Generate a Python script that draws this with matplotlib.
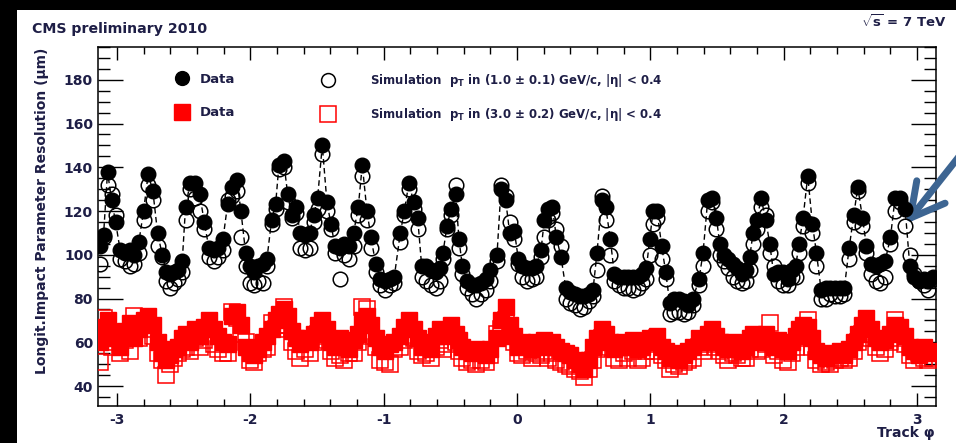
import numpy as np
import matplotlib.pyplot as plt
from matplotlib.patches import Rectangle
from matplotlib.ticker import MultipleLocator

plt.rcParams['font.family'] = ['DejaVu Sans']
plt.rcParams['font.weight'] = 'bold'
plt.rcParams['axes.unicode_minus'] = False
plt.rcParams['mathtext.fontset'] = 'custom'
plt.rcParams['mathtext.rm'] = 'DejaVu Sans:bold'
plt.rcParams['mathtext.it'] = 'DejaVu Sans:bold'
plt.rcParams['mathtext.bf'] = 'DejaVu Sans:bold'

# track phi of each point
phi = [
    -3.13, -3.10, -3.07, -3.04, -3.01, -2.975, -2.94, -2.905, -2.87, -2.835,
    -2.80, -2.765, -2.73, -2.695, -2.66, -2.63, -2.60, -2.57, -2.54, -2.51,
    -2.485, -2.45, -2.415, -2.38, -2.345, -2.31, -2.275, -2.24, -2.205, -2.17,
    -2.135, -2.10, -2.07, -2.035, -2.00, -1.97, -1.94, -1.905, -1.875, -1.84,
    -1.81, -1.785, -1.75, -1.72, -1.69, -1.66, -1.625, -1.59, -1.555, -1.525,
    -1.495, -1.46, -1.425, -1.395, -1.365, -1.33, -1.295, -1.26, -1.225, -1.19,
    -1.16, -1.125, -1.095, -1.06, -1.025, -0.99, -0.955, -0.92, -0.875, -0.845,
    -0.81, -0.775, -0.745, -0.715, -0.68, -0.645, -0.61, -0.58, -0.555, -0.525,
    -0.495, -0.46, -0.435, -0.41, -0.375, -0.34, -0.305, -0.27, -0.235, -0.20,
    -0.15, -0.12, -0.085, -0.055, -0.02, 0.01, 0.04, 0.075, 0.11, 0.145,
    0.18, 0.205, 0.235, 0.265, 0.295, 0.33, 0.365, 0.40, 0.435, 0.47,
    0.505, 0.54, 0.57, 0.60, 0.635, 0.665, 0.70, 0.73, 0.765, 0.80,
    0.835, 0.87, 0.905, 0.94, 0.97, 0.995, 1.02, 1.05, 1.085, 1.115,
    1.145, 1.18, 1.215, 1.25, 1.285, 1.32, 1.365, 1.395, 1.43, 1.46,
    1.495, 1.52, 1.55, 1.585, 1.62, 1.65, 1.685, 1.715, 1.745, 1.77,
    1.80, 1.83, 1.865, 1.895, 1.925, 1.96, 1.995, 2.03, 2.06, 2.09,
    2.115, 2.145, 2.18, 2.215, 2.245, 2.28, 2.315, 2.35, 2.385, 2.42,
    2.455, 2.49, 2.525, 2.555, 2.59, 2.62, 2.655, 2.69, 2.725, 2.76,
    2.80, 2.835, 2.87, 2.91, 2.945, 2.98, 3.015, 3.05, 3.085, 3.12,
]

# pT 1.0 GeV/c : data / simulation
data_1gev = [
    104, 109, 138, 125, 115, 102, 101, 102, 100, 106,
    120, 137, 129, 110, 100, 92, 91, 92, 93, 97,
    122, 133, 133, 128, 115, 103, 102, 103, 107, 123,
    131, 134, 120, 101, 95, 92, 95, 96, 98, 116,
    123, 141, 143, 128, 118, 122, 110, 109, 110, 118,
    126, 150, 124, 114, 104, 103, 105, 104, 110, 122,
    141, 120, 108, 96, 89, 88, 89, 90, 110, 120,
    133, 124, 117, 95, 95, 93, 92, 94, 101, 113,
    121, 128, 107, 95, 88, 86, 86, 87, 89, 93,
    100, 130, 125, 110, 111, 98, 95, 94, 94, 95,
    102, 116, 121, 122, 108, 99, 85, 83, 82, 81,
    81, 82, 84, 101, 125, 122, 107, 91, 90, 90,
    90, 90, 90, 91, 94, 107, 120, 120, 104, 92,
    78, 80, 80, 79, 77, 80, 89, 101, 125, 126,
    117, 105, 100, 98, 96, 94, 91, 93, 99, 110,
    116, 126, 116, 105, 91, 92, 92, 89, 93, 95,
    105, 117, 136, 114, 101, 84, 85, 85, 85, 85,
    85, 103, 118, 131, 117, 104, 96, 95, 96, 97,
    108, 126, 126, 121, 95, 90, 88, 89, 88, 90,
]
sim_1gev = [
    96, 108, 132, 128, 118, 98, 97, 95, 96, 101,
    116, 132, 125, 104, 99, 88, 85, 87, 89, 92,
    116, 130, 126, 120, 112, 99, 97, 99, 102, 125,
    127, 129, 108, 95, 87, 86, 88, 87, 95, 114,
    121, 139, 140, 124, 117, 119, 103, 102, 103, 115,
    121, 146, 120, 112, 101, 89, 100, 98, 104, 118,
    136, 116, 103, 92, 86, 84, 86, 87, 106, 118,
    130, 121, 112, 90, 88, 86, 85, 88, 98, 112,
    118, 132, 103, 91, 85, 82, 80, 82, 84, 88,
    97, 132, 127, 115, 107, 96, 90, 88, 89, 90,
    99, 108, 116, 119, 112, 104, 80, 78, 77, 75,
    76, 79, 81, 93, 127, 116, 100, 88, 86, 85,
    85, 84, 85, 87, 89, 100, 114, 117, 98, 89,
    73, 74, 74, 73, 74, 77, 86, 95, 120, 124,
    112, 100, 97, 94, 90, 88, 87, 88, 93, 105,
    112, 122, 118, 101, 95, 88, 86, 86, 90, 90,
    101, 113, 133, 110, 95, 80, 80, 82, 81, 81,
    82, 98, 115, 129, 113, 101, 91, 88, 87, 90,
    105, 120, 124, 113, 100, 91, 88, 86, 84, 89,
]

# pT 3.0 GeV/c : data / simulation
data_3gev = [
    60, 67, 70, 64, 62, 58, 65, 69, 62, 66,
    70, 72, 68, 60, 55, 52, 54, 57, 58, 62,
    64, 60, 66, 63, 67, 70, 66, 63, 60, 59,
    72, 74, 68, 58, 55, 54, 57, 60, 63, 66,
    70, 73, 75, 72, 65, 62, 59, 62, 60, 64,
    68, 70, 66, 60, 58, 62, 60, 57, 61, 64,
    70, 72, 68, 62, 58, 56, 59, 60, 63, 67,
    70, 66, 62, 58, 60, 57, 63, 66, 63, 65,
    68, 64, 61, 58, 56, 55, 57, 56, 54, 57,
    62, 70, 76, 68, 63, 58, 60, 59, 57, 60,
    59, 61, 58, 60, 58, 56, 55, 54, 52, 50,
    48, 52, 58, 62, 66, 64, 60, 57, 58, 60,
    58, 61, 57, 58, 60, 62, 60, 63, 58, 56,
    53, 55, 52, 54, 56, 58, 62, 60, 64, 66,
    63, 60, 58, 57, 60, 59, 56, 58, 62, 64,
    60, 62, 64, 60, 58, 61, 57, 56, 60, 63,
    66, 68, 67, 62, 56, 54, 53, 55, 54, 56,
    54, 57, 60, 64, 68, 71, 66, 62, 60, 61,
    64, 68, 67, 63, 58, 56, 54, 58, 55, 56,
]
sim_3gev = [
    51, 71, 66, 58, 60, 55, 61, 56, 72, 62,
    66, 68, 63, 55, 52, 45, 50, 53, 55, 57,
    58, 56, 62, 58, 61, 66, 59, 57, 55, 55,
    74, 71, 64, 60, 52, 51, 55, 57, 58, 69,
    66, 68, 76, 68, 60, 56, 53, 57, 55, 60,
    64, 63, 61, 56, 53, 54, 52, 55, 55, 60,
    76, 75, 63, 58, 52, 51, 50, 57, 58, 61,
    66, 62, 56, 54, 55, 53, 58, 61, 57, 59,
    63, 60, 56, 53, 51, 52, 50, 52, 51, 54,
    64, 66, 70, 65, 60, 55, 54, 56, 53, 55,
    54, 56, 53, 55, 52, 51, 50, 49, 48, 47,
    44, 48, 52, 57, 62, 60, 58, 53, 52, 55,
    53, 56, 52, 53, 56, 59, 56, 62, 54, 52,
    48, 50, 49, 51, 52, 53, 58, 56, 59, 62,
    58, 56, 54, 52, 55, 54, 53, 53, 57, 60,
    56, 57, 59, 69, 54, 56, 52, 51, 55, 58,
    62, 64, 70, 58, 52, 50, 51, 50, 52, 53,
    52, 53, 56, 60, 64, 66, 62, 58, 55, 57,
    60, 70, 62, 59, 54, 52, 55, 53, 52, 53,
]

TXT = '#1e1e46'

fig = plt.figure(figsize=(9.56, 4.43), dpi=100, facecolor='black')
fig.add_artist(Rectangle((17 / 956, 0), 1, 1 - 10 / 443, transform=fig.transFigure,
                         facecolor='white', edgecolor='none', zorder=-10))
ax = fig.add_axes([98 / 956, 37.3 / 443, 838 / 956, 358.7 / 443])

ax.plot(phi, data_1gev, ls=(0, (4, 2.5)), color='black', lw=1, zorder=2)
h_rs, = ax.plot(phi, sim_3gev, 's', mfc='none', mec='red', ms=11.5, mew=1.1, zorder=3)
h_rd, = ax.plot(phi, data_3gev, 's', color='red', ms=11.5, zorder=4)
h_bs, = ax.plot(phi, sim_1gev, 'o', mfc='none', mec='black', ms=10.5, mew=1.1, zorder=5)
h_bd, = ax.plot(phi, data_1gev, 'o', color='black', ms=10.5, zorder=6)

ax.set_xlim(-np.pi, np.pi)
ax.set_ylim(31, 195)
ax.xaxis.set_major_locator(MultipleLocator(1))
ax.xaxis.set_minor_locator(MultipleLocator(0.2))
ax.yaxis.set_minor_locator(MultipleLocator(5))
ax.set_yticks([40, 60, 80, 100, 120, 140, 160, 180])
ax.tick_params(which='both', direction='in', top=True, right=True, width=1,
               labelsize=10, labelcolor=TXT)
ax.tick_params(axis='x', which='major', length=9.4, pad=5)
ax.tick_params(axis='x', which='minor', length=4.7)
ax.tick_params(axis='y', which='major', length=18, pad=3.6)
ax.tick_params(axis='y', which='minor', length=8.6)
for s in ax.spines.values():
    s.set_linewidth(1.1)

leg1 = ax.legend([h_bd, h_rd], ['Data', 'Data'], loc='upper left',
                 bbox_to_anchor=(0.0928, 0.9275), frameon=False, fontsize=9.5,
                 borderpad=0, borderaxespad=0, handlelength=1.0, markerscale=0.95,
                 handletextpad=0.8, labelspacing=1.55, labelcolor=TXT)
ax.add_artist(leg1)
ax.legend([h_bs, h_rs],
          ['Simulation  $p_T$ in (1.0 ± 0.1) GeV/c, |η| < 0.4',
           'Simulation  $p_T$ in (3.0 ± 0.2) GeV/c, |η| < 0.4'],
          loc='upper left', bbox_to_anchor=(0.267, 0.93), frameon=False,
          fontsize=8.5, borderpad=0, borderaxespad=0, handlelength=1.0,
          markerscale=0.95, handletextpad=3.1, labelspacing=1.45, labelcolor=TXT)

fig.text(32 / 956, 1 - 29 / 443, 'CMS preliminary 2010', fontsize=10.2,
         color=TXT, va='center', ha='left')
fig.text(946 / 956, 1 - 22 / 443, r'$\sqrt{s}$ = 7 TeV', fontsize=9.5,
         color=TXT, va='center', ha='right')
fig.text(42 / 956, 1 - 48 / 443, 'Longit.Impact Parameter Resolution (μm)',
         rotation=90, fontsize=10, color=TXT, va='top', ha='center')
fig.text(935 / 956, 10 / 443, 'Track φ', fontsize=10, color=TXT,
         va='center', ha='right')

ax.annotate('', xy=(904, 443 - 226), xycoords='figure pixels',
            xytext=(980, 443 - 130), textcoords='figure pixels',
            arrowprops=dict(arrowstyle='->,head_length=2.4,head_width=1.3',
                            lw=5, color='#3d6592'),
            annotation_clip=False)

fig.savefig('out.png', dpi=100, facecolor=fig.get_facecolor())
